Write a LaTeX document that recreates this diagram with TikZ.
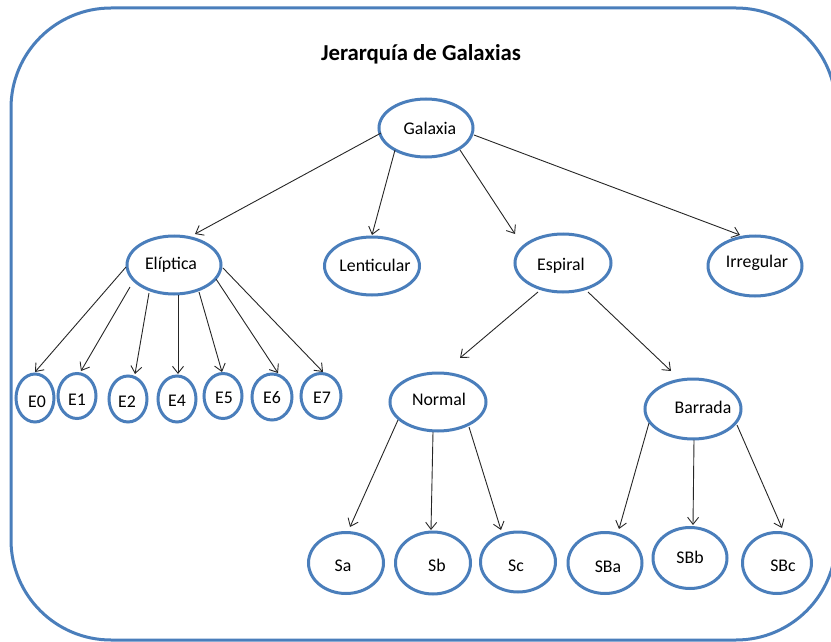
\documentclass[tikz,border=0pt]{standalone}
\usepackage{fontspec}
\setmainfont{Carlito}
\usetikzlibrary{arrows.meta,calc,shapes.geometric}
\definecolor{obord}{HTML}{4A7EBB}
\tikzset{
  ell/.style={draw=obord, line width=3pt, ellipse, fill=white, inner sep=0pt},
  lbl/.style={anchor=base, inner sep=0pt, font=\fontsize{17.8}{18}\selectfont, text=black},
  arr/.style={draw=black!85, line width=0.9pt, -{Straight Barb[length=7pt,width=11pt,line width=0.9pt]}},
}
\begin{document}
\begin{tikzpicture}[x=1pt,y=-1pt]
\useasboundingbox (0,0) rectangle (831,642);
\begin{scope}
\clip (0,0) rectangle (831,642);
\draw[obord, line width=3pt, rounded corners=100pt] (11,8) rectangle (836,640);
\end{scope}
\node[anchor=base, inner sep=0pt, font=\bfseries\fontsize{22.8}{23}\selectfont] (title) at (421,61) {Jerarquía de Galaxias};
% ellipses
\node[ell, minimum width=94pt, minimum height=58pt] (G) at (426,128) {};
\node[ell, minimum width=94pt, minimum height=58pt] (El) at (174,265) {};
\node[ell, minimum width=95pt, minimum height=58pt] (Len) at (372,266) {};
\node[ell, minimum width=96pt, minimum height=58pt] (Esp) at (563,263) {};
\node[ell, minimum width=94pt, minimum height=60pt] (Irr) at (755,266) {};
\node[ell, minimum width=38pt, minimum height=48pt] (E0) at (35,398) {};
\node[ell, minimum width=38pt, minimum height=45pt] (E1) at (77,396) {};
\node[ell, minimum width=38pt, minimum height=46pt] (E2) at (128,399) {};
\node[ell, minimum width=38pt, minimum height=46pt] (E4) at (177,399) {};
\node[ell, minimum width=38pt, minimum height=45pt] (E5) at (223,396) {};
\node[ell, minimum width=40pt, minimum height=46pt] (E6) at (272,397) {};
\node[ell, minimum width=40pt, minimum height=45pt] (E7) at (321,396) {};
\node[ell, minimum width=96pt, minimum height=58pt] (No) at (438,402) {};
\node[ell, minimum width=96pt, minimum height=60pt] (Ba) at (693,409) {};
\node[ell, minimum width=75pt, minimum height=61pt] (Sa) at (346,563) {};
\node[ell, minimum width=75pt, minimum height=62pt] (Sb) at (433,563) {};
\node[ell, minimum width=75pt, minimum height=60pt] (Sc) at (518,562) {};
\node[ell, minimum width=74pt, minimum height=61pt] (SBa) at (605,563) {};
\node[ell, minimum width=74pt, minimum height=61pt] (SBb) at (690,558) {};
\node[ell, minimum width=69pt, minimum height=61pt] (SBc) at (777,563) {};
% labels
\node[lbl] (tG) at (430,135) {Galaxia};
\node[lbl] (tEl) at (171,269) {Elíptica};
\node[lbl] (tLen) at (375,271) {Lenticular};
\node[lbl] (tEsp) at (561,270) {Espiral};
\node[lbl] (tIrr) at (757,267) {Irregular};
\node[lbl] (tE0) at (37,407) {E0};
\node[lbl] (tE1) at (77,405) {E1};
\node[lbl] (tE2) at (127,407) {E2};
\node[lbl] (tE4) at (177,406) {E4};
\node[lbl] (tE5) at (224,403) {E5};
\node[lbl] (tE6) at (272,403) {E6};
\node[lbl] (tE7) at (322,403) {E7};
\node[lbl] (tNo) at (439,405) {Normal};
\node[lbl] (tBa) at (703,413) {Barrada};
\node[lbl] (tSa) at (343,571) {Sa};
\node[lbl] (tSb) at (437,571) {Sb};
\node[lbl] (tSc) at (516,571) {Sc};
\node[lbl] (tSBa) at (608,572) {SBa};
\node[lbl] (tSBb) at (690,563) {SBb};
\node[lbl] (tSBc) at (783,571) {SBc};
% connectors
\draw[arr] ($(G)+(-45,5)$) -- ($(El)+(21,-31)$);
\draw[arr] ($(G)+(-31,22)$) -- ($(Len)+(0,-31)$);
\draw[arr] ($(G)+(34,22)$) -- ($(Esp)+(-48,-29)$);
\draw[arr] ($(G)+(48,7)$) -- ($(Irr)+(-15,-31)$);
\draw[arr] ($(El)+(-48,2)$) -- ($(E0)+(0,-26)$);
\draw[arr] ($(El)+(-44,22)$) -- ($(E1)+(4,-25)$);
\draw[arr] ($(El)+(-25,28)$) -- ($(E2)+(7,-25)$);
\draw[arr] ($(El)+(4,30)$) -- ($(E4)+(1,-25)$);
\draw[arr] ($(El)+(25,27)$) -- ($(E5)+(-1,-24)$);
\draw[arr] ($(El)+(42,14)$) -- ($(E6)+(6,-24)$);
\draw[arr] ($(El)+(49,3)$) -- ($(E7)+(2,-24)$);
\draw[arr] ($(Esp)+(-25,29)$) -- ($(No)+(22,-44)$);
\draw[arr] ($(Esp)+(25,29)$) -- ($(Ba)+(-22,-38)$);
\draw[arr] ($(No)+(-40,18)$) -- ($(Sa)+(4,-36)$);
\draw[arr] ($(No)+(-5,30)$) -- ($(Sb)+(-2,-33)$);
\draw[arr] ($(No)+(31,25)$) -- ($(Sc)+(-17,-32)$);
\draw[arr] ($(Ba)+(-44,14)$) -- ($(SBa)+(14,-34)$);
\draw[arr] ($(Ba)+(1,31)$) -- ($(SBb)+(3,-33)$);
\draw[arr] ($(Ba)+(44,16)$) -- ($(SBc)+(5,-35)$);
\end{tikzpicture}
\end{document}
